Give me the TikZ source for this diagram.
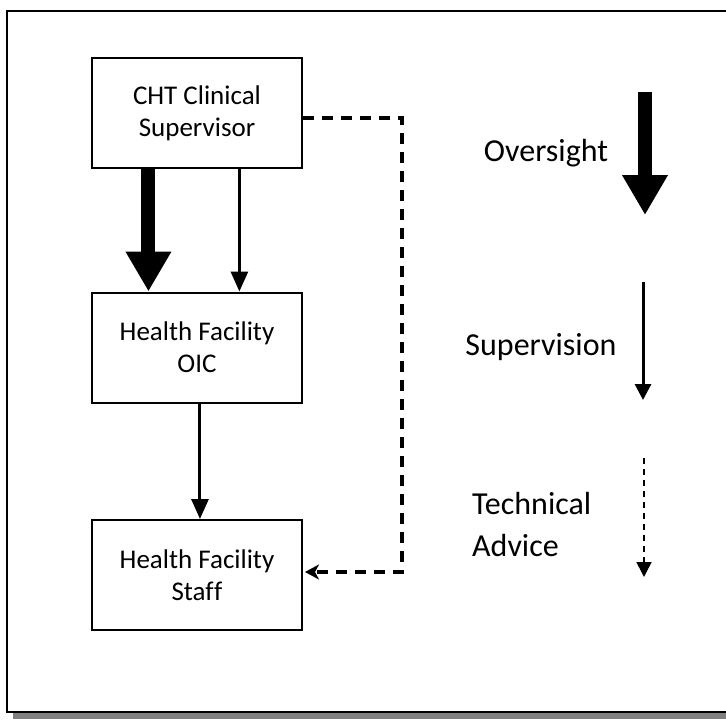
\documentclass[tikz,border=0pt]{standalone}
\usepackage{fontspec}
\setmainfont{Carlito}[Ligatures=NoCommon]
\usetikzlibrary{arrows.meta,calc}
\tikzset{
  boxnode/.style={draw,line width=2pt,minimum width=210pt,minimum height=110pt,align=center,inner sep=0pt,
    font=\fontsize{27}{32}\selectfont},
  legtext/.style={font=\fontsize{32}{38}\selectfont,inner sep=0pt},
  bigarrow/.style={line width=14pt,-{Triangle[length=40pt,width=43pt]}},
  midarrow/.style={line width=3pt,-{Triangle[length=20pt,width=17pt]}},
  dasharrow/.style={line width=3.5pt,dash pattern=on 11pt off 8pt,-{Stealth[length=14pt,width=15pt,inset=4pt]}},
  thindash/.style={line width=1.6pt,dash pattern=on 6pt off 5pt,-{Triangle[length=15pt,width=15pt]}},
}
\begin{document}
\begin{tikzpicture}[x=1pt,y=-1pt]
\useasboundingbox (0,0) rectangle (726,720);
\clip (0,0) rectangle (726,720);
% outer frame with shadow
\fill[black!50] (13,18) rectangle (760,719);
\draw[line width=2pt,fill=white] (7,11) rectangle (755,712);
% boxes
\node[boxnode] (sup) at (197,113) {CHT Clinical\\Supervisor};
\node[boxnode] (oic) at (197,347.5) {Health Facility\\OIC};
\node[boxnode] (staff) at (197,575) {Health Facility\\Staf\kern0.5pt f};
% connectors
\draw[bigarrow] ($(sup.south west)!0.271!(sup.south east)$) -- ($(oic.north west)!0.271!(oic.north east)$);
\draw[midarrow] ($(sup.south west)!0.70!(sup.south east)$) -- ($(oic.north west)!0.70!(oic.north east)$);
\draw[midarrow] ($(oic.south west)!0.514!(oic.south east)$) -- ($(staff.north west)!0.514!(staff.north east)$);
\coordinate (c1) at (402,118);
\coordinate (c2) at (402,572);
\draw[dasharrow] ([yshift=-5pt]sup.east) -- (c1) -- (c2) -- ([xshift=2pt]c2 -| staff.east);
% legend
\node[legtext,anchor=base] (lover) at (546,161) {Oversight};
\node[legtext,anchor=base] (lsup) at (541,355) {Supervision};
\node[legtext,anchor=base west] (ltech1) at (472,514) {Technical};
\node[legtext,anchor=base west] (ltech2) at (472,556) {Advice};
\coordinate (o1) at (645,92);
\coordinate (o2) at (645,215);
\draw[bigarrow] (o1) -- (o2);
\coordinate (s1) at (643,282);
\coordinate (s2) at (643,400);
\draw[line width=3pt,-{Triangle[length=16pt,width=16pt]}] (s1) -- (s2);
\coordinate (t1) at (644,458);
\coordinate (t2) at (644,577);
\draw[thindash] (t1) -- (t2);
\end{tikzpicture}
\end{document}
